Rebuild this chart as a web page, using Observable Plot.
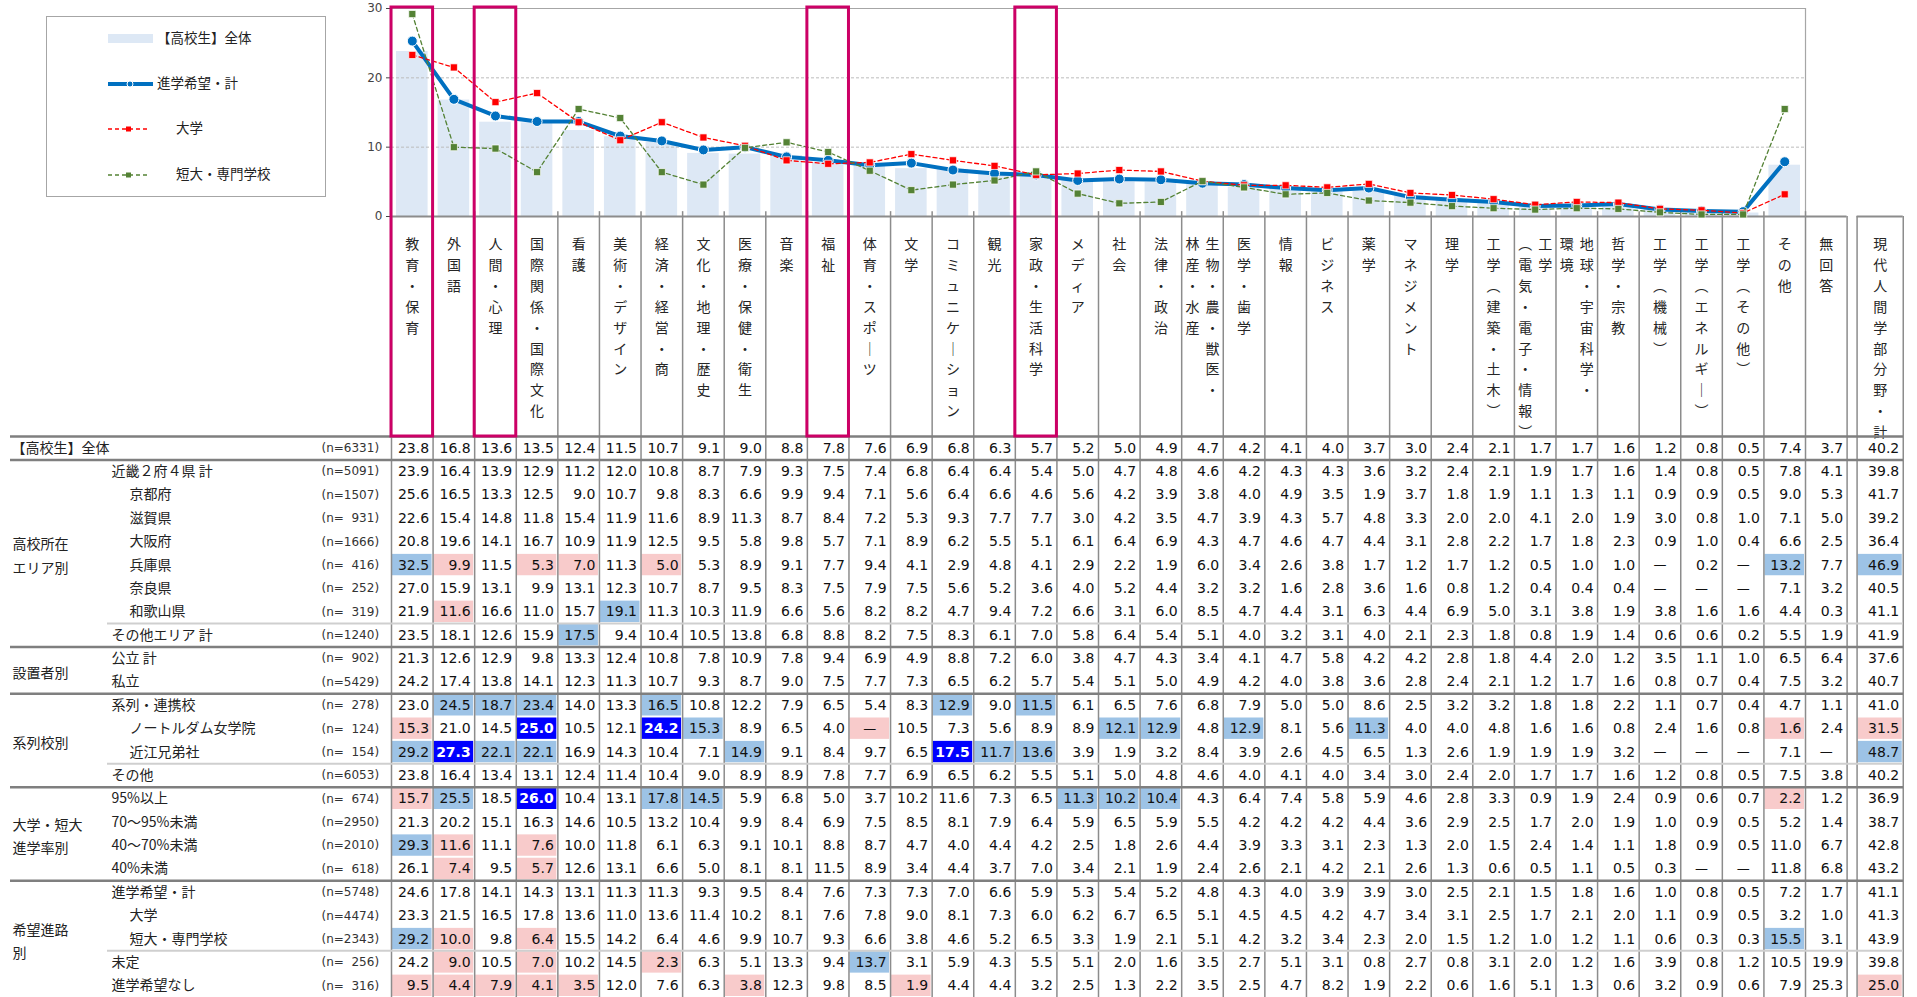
<!DOCTYPE html>
<html><head><meta charset="utf-8">
<script src="https://cdn.jsdelivr.net/npm/d3@7"></script>
<script src="https://cdn.jsdelivr.net/npm/@observablehq/plot@0.6"></script>
<style>
html,body{margin:0;padding:0;background:#fff;overflow:hidden;}
#root{position:relative;width:1917px;height:997px;overflow:hidden;background:#fff;}
.layer{position:absolute;left:0;}
.layer svg{display:block;overflow:visible;max-width:none;}
#legend{position:absolute;left:46px;top:16px;width:280px;height:181px;border:1px solid #a6a6a6;box-sizing:border-box;background:#fff;}
#legend text{font-family:"Noto Sans CJK JP";font-size:13.5px;fill:#222;dominant-baseline:middle;}
</style></head><body><div id="root"></div>
<script>
// ---------- DATA ----------
const fields = ["教育・保育","外国語","人間・心理","国際関係・国際文化","看護","美術・デザイン","経済・経営・商","文化・地理・歴史","医療・保健・衛生","音楽","福祉","体育・スポーツ","文学","コミュニケーション","観光","家政・生活科学","メディア","社会","法律・政治","生物・農・獣医・林産・水産","医学・歯学","情報","ビジネス","薬学","マネジメント","理学","工学（建築・土木）","工学（電気・電子・情報）","地球・宇宙科学・環境","哲学・宗教","工学（機械）","工学（エネルギー）","工学（その他）","その他","無回答"];
const totalField = "現代人間学部分野・計";
// header labels written in two vertical lines (right line first)
const headerTwoLines = {19: ["生物・農・獣医・","林産・水産"], 27: ["工学","（電気・電子・情報）"], 28: ["地球・宇宙科学・","環境"]};
const highlightedFields = ["教育・保育","人間・心理","福祉","家政・生活科学"];

const rowLabels = ["【高校生】全体","近畿２府４県 計","京都府","滋賀県","大阪府","兵庫県","奈良県","和歌山県","その他エリア 計","公立 計","私立","系列・連携校","ノートルダム女学院","近江兄弟社","その他","95%以上","70～95%未満","40～70%未満","40%未満","進学希望・計","大学","短大・専門学校","未定","進学希望なし"];
const rowLevel = [0,1,2,2,2,2,2,2,1,1,1,1,2,2,1,1,1,1,1,1,2,2,1,1];
const rowN = [6331,5091,1507,931,1666,416,252,319,1240,902,5429,278,124,154,6053,674,2950,2010,618,5748,4474,2343,256,316];
const groupLabels = ["高校所在\nエリア別","設置者別","系列校別","大学・短大\n進学率別","希望進路\n別"];
const groupFirstRow = [1,9,11,15,19];
const groupLastRow = [8,10,14,18,23];
const majorBreaks = [0,1,9,11,15,19];
const minorBreaks = [8,14,22];

// table values: 35 fields + 現代人間学部分野・計 (null = —)
const tableValues = [
/*【高校生】全体*/ [23.8,16.8,13.6,13.5,12.4,11.5,10.7,9.1,9.0,8.8,7.8,7.6,6.9,6.8,6.3,5.7,5.2,5.0,4.9,4.7,4.2,4.1,4.0,3.7,3.0,2.4,2.1,1.7,1.7,1.6,1.2,0.8,0.5,7.4,3.7,40.2],
/*近畿2府4県 計*/ [23.9,16.4,13.9,12.9,11.2,12.0,10.8,8.7,7.9,9.3,7.5,7.4,6.8,6.4,6.4,5.4,5.0,4.7,4.8,4.6,4.2,4.3,4.3,3.6,3.2,2.4,2.1,1.9,1.7,1.6,1.4,0.8,0.5,7.8,4.1,39.8],
/*京都府*/ [25.6,16.5,13.3,12.5,9.0,10.7,9.8,8.3,6.6,9.9,9.4,7.1,5.6,6.4,6.6,4.6,5.6,4.2,3.9,3.8,4.0,4.9,3.5,1.9,3.7,1.8,1.9,1.1,1.3,1.1,0.9,0.9,0.5,9.0,5.3,41.7],
/*滋賀県*/ [22.6,15.4,14.8,11.8,15.4,11.9,11.6,8.9,11.3,8.7,8.4,7.2,5.3,9.3,7.7,7.7,3.0,4.2,3.5,4.7,3.9,4.3,5.7,4.8,3.3,2.0,2.0,4.1,2.0,1.9,3.0,0.8,1.0,7.1,5.0,39.2],
/*大阪府*/ [20.8,19.6,14.1,16.7,10.9,11.9,12.5,9.5,5.8,9.8,5.7,7.1,8.9,6.2,5.5,5.1,6.1,6.4,6.9,4.3,4.7,4.6,4.7,4.4,3.1,2.8,2.2,1.7,1.8,2.3,0.9,1.0,0.4,6.6,2.5,36.4],
/*兵庫県*/ [32.5,9.9,11.5,5.3,7.0,11.3,5.0,5.3,8.9,9.1,7.7,9.4,4.1,2.9,4.8,4.1,2.9,2.2,1.9,6.0,3.4,2.6,3.8,1.7,1.2,1.7,1.2,0.5,1.0,1.0,null,0.2,null,13.2,7.7,46.9],
/*奈良県*/ [27.0,15.9,13.1,9.9,13.1,12.3,10.7,8.7,9.5,8.3,7.5,7.9,7.5,5.6,5.2,3.6,4.0,5.2,4.4,3.2,3.2,1.6,2.8,3.6,1.6,0.8,1.2,0.4,0.4,0.4,null,null,null,7.1,3.2,40.5],
/*和歌山県*/ [21.9,11.6,16.6,11.0,15.7,19.1,11.3,10.3,11.9,6.6,5.6,8.2,8.2,4.7,9.4,7.2,6.6,3.1,6.0,8.5,4.7,4.4,3.1,6.3,4.4,6.9,5.0,3.1,3.8,1.9,3.8,1.6,1.6,4.4,0.3,41.1],
/*その他エリア 計*/ [23.5,18.1,12.6,15.9,17.5,9.4,10.4,10.5,13.8,6.8,8.8,8.2,7.5,8.3,6.1,7.0,5.8,6.4,5.4,5.1,4.0,3.2,3.1,4.0,2.1,2.3,1.8,0.8,1.9,1.4,0.6,0.6,0.2,5.5,1.9,41.9],
/*公立 計*/ [21.3,12.6,12.9,9.8,13.3,12.4,10.8,7.8,10.9,7.8,9.4,6.9,4.9,8.8,7.2,6.0,3.8,4.7,4.3,3.4,4.1,4.7,5.8,4.2,4.2,2.8,1.8,4.4,2.0,1.2,3.5,1.1,1.0,6.5,6.4,37.6],
/*私立*/ [24.2,17.4,13.8,14.1,12.3,11.3,10.7,9.3,8.7,9.0,7.5,7.7,7.3,6.5,6.2,5.7,5.4,5.1,5.0,4.9,4.2,4.0,3.8,3.6,2.8,2.4,2.1,1.2,1.7,1.6,0.8,0.7,0.4,7.5,3.2,40.7],
/*系列・連携校*/ [23.0,24.5,18.7,23.4,14.0,13.3,16.5,10.8,12.2,7.9,6.5,5.4,8.3,12.9,9.0,11.5,6.1,6.5,7.6,6.8,7.9,5.0,5.0,8.6,2.5,3.2,3.2,1.8,1.8,2.2,1.1,0.7,0.4,4.7,1.1,41.0],
/*ノートルダム女学院*/ [15.3,21.0,14.5,25.0,10.5,12.1,24.2,15.3,8.9,6.5,4.0,null,10.5,7.3,5.6,8.9,8.9,12.1,12.9,4.8,12.9,8.1,5.6,11.3,4.0,4.0,4.8,1.6,1.6,0.8,2.4,1.6,0.8,1.6,2.4,31.5],
/*近江兄弟社*/ [29.2,27.3,22.1,22.1,16.9,14.3,10.4,7.1,14.9,9.1,8.4,9.7,6.5,17.5,11.7,13.6,3.9,1.9,3.2,8.4,3.9,2.6,4.5,6.5,1.3,2.6,1.9,1.9,1.9,3.2,null,null,null,7.1,null,48.7],
/*その他*/ [23.8,16.4,13.4,13.1,12.4,11.4,10.4,9.0,8.9,8.9,7.8,7.7,6.9,6.5,6.2,5.5,5.1,5.0,4.8,4.6,4.0,4.1,4.0,3.4,3.0,2.4,2.0,1.7,1.7,1.6,1.2,0.8,0.5,7.5,3.8,40.2],
/*95%以上*/ [15.7,25.5,18.5,26.0,10.4,13.1,17.8,14.5,5.9,6.8,5.0,3.7,10.2,11.6,7.3,6.5,11.3,10.2,10.4,4.3,6.4,7.4,5.8,5.9,4.6,2.8,3.3,0.9,1.9,2.4,0.9,0.6,0.7,2.2,1.2,36.9],
/*70～95%未満*/ [21.3,20.2,15.1,16.3,14.6,10.5,13.2,10.4,9.9,8.4,6.9,7.5,8.5,8.1,7.9,6.4,5.9,6.5,5.9,5.5,4.2,4.2,4.2,4.4,3.6,2.9,2.5,1.7,2.0,1.9,1.0,0.9,0.5,5.2,1.4,38.7],
/*40～70%未満*/ [29.3,11.6,11.1,7.6,10.0,11.8,6.1,6.3,9.1,10.1,8.8,8.7,4.7,4.0,4.4,4.2,2.5,1.8,2.6,4.4,3.9,3.3,3.1,2.3,1.3,2.0,1.5,2.4,1.4,1.1,1.8,0.9,0.5,11.0,6.7,42.8],
/*40%未満*/ [26.1,7.4,9.5,5.7,12.6,13.1,6.6,5.0,8.1,8.1,11.5,8.9,3.4,4.4,3.7,7.0,3.4,2.1,1.9,2.4,2.6,2.1,4.2,2.1,2.6,1.3,0.6,0.5,1.1,0.5,0.3,null,null,11.8,6.8,43.2],
/*進学希望・計*/ [24.6,17.8,14.1,14.3,13.1,11.3,11.3,9.3,9.5,8.4,7.6,7.3,7.3,7.0,6.6,5.9,5.3,5.4,5.2,4.8,4.3,4.0,3.9,3.9,3.0,2.5,2.1,1.5,1.8,1.6,1.0,0.8,0.5,7.2,1.7,41.1],
/*大学*/ [23.3,21.5,16.5,17.8,13.6,11.0,13.6,11.4,10.2,8.1,7.6,7.8,9.0,8.1,7.3,6.0,6.2,6.7,6.5,5.1,4.5,4.5,4.2,4.7,3.4,3.1,2.5,1.7,2.1,2.0,1.1,0.9,0.5,3.2,1.0,41.3],
/*短大・専門学校*/ [29.2,10.0,9.8,6.4,15.5,14.2,6.4,4.6,9.9,10.7,9.3,6.6,3.8,4.6,5.2,6.5,3.3,1.9,2.1,5.1,4.2,3.2,3.4,2.3,2.0,1.5,1.2,1.0,1.2,1.1,0.6,0.3,0.3,15.5,3.1,43.9],
/*未定*/ [24.2,9.0,10.5,7.0,10.2,14.5,2.3,6.3,5.1,13.3,9.4,13.7,3.1,5.9,4.3,5.5,5.1,2.0,1.6,3.5,2.7,5.1,3.1,0.8,2.7,0.8,3.1,2.0,1.2,1.6,3.9,0.8,1.2,10.5,19.9,39.8],
/*進学希望なし*/ [9.5,4.4,7.9,4.1,3.5,12.0,7.6,6.3,3.8,12.3,9.8,8.5,1.9,4.4,4.4,3.2,2.5,1.3,2.2,3.5,2.5,4.7,8.2,1.9,2.2,0.6,1.6,5.1,1.3,0.6,3.2,0.9,0.6,7.9,25.3,25.0]
];

// chart line "進学希望・計" as plotted
const chartTotalLine = [25.3,16.9,14.5,13.7,13.7,11.6,10.9,9.6,10.0,8.6,8.1,7.4,7.7,6.7,6.2,6.0,5.2,5.4,5.3,4.8,4.6,4.1,3.8,4.1,2.8,2.4,2.1,1.5,1.6,1.8,1.0,0.8,0.7,7.9];

// significance marks [row, column] (column 35 = 現代人間学部分野・計)
const higherCells = [[5,0],[5,33],[5,35],[7,5],[8,4],[11,1],[11,2],[11,3],[11,6],[11,13],[11,15],[12,7],[12,17],[12,18],[12,20],[12,23],[13,0],[13,2],[13,3],[13,8],[13,14],[13,15],[13,35],[15,1],[15,6],[15,7],[15,16],[15,17],[15,18],[17,0],[21,0],[21,33],[22,11]];
const muchHigherCells = [[12,3],[12,6],[13,1],[13,13],[15,3]];
const lowerCells = [[5,1],[5,3],[5,4],[5,6],[7,1],[12,0],[12,11],[12,33],[12,35],[15,0],[15,33],[17,1],[17,3],[18,1],[18,3],[21,1],[21,3],[22,1],[22,3],[22,6],[23,0],[23,1],[23,2],[23,3],[23,4],[23,8],[23,12],[23,35]];

// ---------- BUILD ----------
const NCOL = fields.length;            // 35
const TOT_L = 35.24, TOT_R = 36.35;    // separate total column (in column units)
const colL = c => c < NCOL ? c : TOT_L;
const colR = c => c < NCOL ? c + 1 : TOT_R;
const colC = c => (colL(c) + colR(c)) / 2;
const xScale = {domain: [0, NCOL], range: [391, 1846.6], axis: null};
const borders = d3.range(0, NCOL + 1).concat([TOT_L, TOT_R]);
const CJK = "Noto Sans CJK JP";
const NUM = "DejaVu Sans";
const C_BAR = "#dde8f5", C_BLUE = "#0070c0", C_RED = "#ff0000", C_GREEN = "#548235";
const C_HI = "#9dc3e6", C_HI2 = "#0000ff", C_LO = "#f8cbcb", C_GRID = "#8c8c8c";

const chartCols = d3.range(0, NCOL - 1); // chart covers all fields but 無回答
const bars = chartCols.map(i => ({i, v: tableValues[0][i]}));
const blueLine = chartCols.map(i => ({i, v: chartTotalLine[i]}));
const redLine = chartCols.map(i => ({i, v: tableValues[20][i]}));
const greenLine = chartCols.map(i => ({i, v: tableValues[21][i]}));
const mid = d => d.i + 0.5;

const root = document.getElementById("root");
function place(svg, top) {
  const d = document.createElement("div");
  d.className = "layer"; d.style.top = top + "px";
  d.appendChild(svg); root.appendChild(d);
}

// ---- chart ----
const chart = Plot.plot({
  width: 1917, height: 218,
  marginLeft: 391, marginRight: 1917 - 1846.6, marginTop: 8, marginBottom: 2,
  x: xScale,
  y: {domain: [0, 30], range: [216, 8]},
  style: {background: "transparent", overflow: "visible"},
  marks: [
    Plot.rect(bars, {x1: "i", x2: d => d.i + 1, y1: 0, y2: "v", fill: C_BAR, insetLeft: 5, insetRight: 5}),
    Plot.ruleY([10, 20], {x1: 0, x2: NCOL - 1, stroke: "#bdbdbd", strokeDasharray: "3,2"}),
    Plot.ruleY([30], {x1: 0, x2: NCOL - 1, stroke: "#a6a6a6", strokeWidth: 1.2}),
    Plot.ruleX([NCOL - 1], {y1: 0, y2: 30, stroke: "#a6a6a6", strokeWidth: 1.2}),
    Plot.ruleX([0], {y1: 0, y2: 30, stroke: C_GRID, strokeWidth: 1.2}),
    Plot.ruleX(d3.range(1, NCOL), {y1: 0, y2: 0.7, stroke: C_GRID, strokeWidth: 1.5}),
    Plot.ruleY([0], {x1: 0, x2: NCOL, stroke: C_GRID, strokeWidth: 2}),
    Plot.ruleY([0], {x1: TOT_L, x2: TOT_R, stroke: C_GRID, strokeWidth: 2}),
    Plot.axisY({ticks: [0, 10, 20, 30], tickSize: 5, tickPadding: 4, label: null, fontSize: 12, fontFamily: NUM, color: "#444"}),
    Plot.line(blueLine, {x: mid, y: "v", stroke: C_BLUE, strokeWidth: 4}),
    Plot.dot(blueLine, {x: mid, y: "v", r: 5, fill: C_BLUE, stroke: "#fff", strokeWidth: 1}),
    Plot.line(redLine, {x: mid, y: "v", stroke: C_RED, strokeWidth: 1.3, strokeDasharray: "4,3"}),
    Plot.dot(redLine, {x: mid, y: "v", r: 4, symbol: "square", fill: C_RED, stroke: "#fff", strokeWidth: 0.7}),
    Plot.line(greenLine, {x: mid, y: "v", stroke: C_GREEN, strokeWidth: 1.3, strokeDasharray: "4,3"}),
    Plot.dot(greenLine, {x: mid, y: "v", r: 4, symbol: "square", fill: C_GREEN, stroke: "#fff", strokeWidth: 0.7})
  ]
});
place(chart, 0);

// ---- column headers ----
const vmap = {"（": "︵", "）": "︶", "ー": "｜"};
const vert = s => Array.from(s).map(ch => vmap[ch] || ch).join("\n");
const singleHeads = [], rightHeads = [], leftHeads = [];
fields.forEach((f, c) => {
  if (headerTwoLines[c]) {
    rightHeads.push({c, t: vert(headerTwoLines[c][0])});
    leftHeads.push({c, t: vert(headerTwoLines[c][1])});
  } else singleHeads.push({c, t: vert(f)});
});
singleHeads.push({c: NCOL, t: vert(totalField)});
const headOpts = {x: d => colC(d.c), text: "t", frameAnchor: "top", lineAnchor: "top", dy: 18,
  fontFamily: CJK, fontSize: 14, lineHeight: 1.49, fill: "#262626"};
const header = Plot.plot({
  width: 1917, height: 220, marginLeft: 391, marginRight: 1917 - 1846.6, marginTop: 0, marginBottom: 0,
  x: xScale,
  style: {background: "transparent", overflow: "visible"},
  marks: [
    Plot.ruleX(borders, {stroke: C_GRID, strokeWidth: 1.5}),
    Plot.text(singleHeads, headOpts),
    Plot.text(rightHeads, {...headOpts, dx: 10}),
    Plot.text(leftHeads, {...headOpts, dx: -10})
  ]
});
place(header, 216);

// ---- table ----
const numCells = [], dashCells = [];
const darkSet = new Set(muchHigherCells.map(([r, c]) => r + "_" + c));
tableValues.forEach((row, r) => row.forEach((v, c) => {
  if (v == null) dashCells.push({r, c});
  else numCells.push({r, c, t: v.toFixed(1), dark: darkSet.has(r + "_" + c)});
}));
const toCell = ([r, c]) => ({r, c});
const rows = rowLabels.map((label, r) => ({r, label, level: rowLevel[r],
  n: "(n=" + String(rowN[r]).padStart(4, "\u2007") + ")"}));
const groups = groupLabels.map((g, k) => ({g, yc: (groupFirstRow[k] + groupLastRow[k] + 1) / 2}));
const rowMid = d => d.r + 0.5;
const cellRect = {x1: d => colL(d.c), x2: d => colR(d.c), y1: "r", y2: d => d.r + 1, inset: 1};
const numOpts = {x: d => colR(d.c), y: rowMid, text: "t", textAnchor: "end", dx: -4, fontFamily: NUM, fontSize: 14};
const labelOpts = {y: rowMid, text: "label", frameAnchor: "left", textAnchor: "start", fontFamily: CJK, fontSize: 14, fill: "#222"};

const table = Plot.plot({
  width: 1917, height: 561, marginLeft: 10, marginRight: 14, marginTop: 0, marginBottom: 0,
  x: xScale,
  y: {domain: [0, rowLabels.length], range: [0, 561], axis: null},
  style: {background: "transparent", overflow: "visible"},
  marks: [
    Plot.rect(higherCells.map(toCell), {...cellRect, fill: C_HI}),
    Plot.rect(muchHigherCells.map(toCell), {...cellRect, fill: C_HI2}),
    Plot.rect(lowerCells.map(toCell), {...cellRect, fill: C_LO}),
    Plot.ruleX(borders, {stroke: C_GRID, strokeWidth: 1.5}),
    Plot.ruleY(minorBreaks, {stroke: "#cfcfcf", strokeWidth: 2, insetLeft: 97}),
    Plot.ruleY(majorBreaks, {stroke: "#7f7f7f", strokeWidth: 2.5}),
    Plot.text(numCells.filter(d => !d.dark), {...numOpts, fill: "#111"}),
    Plot.text(numCells.filter(d => d.dark), {...numOpts, fill: "#fff", fontWeight: "bold"}),
    Plot.text(dashCells, {x: d => colC(d.c), y: rowMid, text: () => "—", fontFamily: NUM, fontSize: 13, fill: "#111"}),
    Plot.text(rows.filter(d => d.level === 0), {...labelOpts, dx: 1}),
    Plot.text(rows.filter(d => d.level === 1), {...labelOpts, dx: 101}),
    Plot.text(rows.filter(d => d.level === 2), {...labelOpts, dx: 119}),
    Plot.text(rows, {y: rowMid, text: "n", frameAnchor: "left", textAnchor: "start", dx: 311, fontFamily: NUM, fontSize: 12, fill: "#333"}),
    Plot.text(groups, {y: "yc", text: "g", frameAnchor: "left", textAnchor: "start", dx: 2, fontFamily: CJK, fontSize: 14, fill: "#222", lineHeight: 1.67})
  ]
});
place(table, 436);

// ---- highlight frames ----
const frames = Plot.plot({
  width: 1917, height: 429, marginLeft: 391, marginRight: 1917 - 1846.6, marginTop: 0, marginBottom: 0,
  x: xScale,
  style: {background: "transparent", overflow: "visible"},
  marks: [
    Plot.rect(highlightedFields.map(f => fields.indexOf(f)), {x1: d => d, x2: d => d + 1, fill: "none", stroke: "#cc0066", strokeWidth: 3})
  ]
});
place(frames, 7);

// ---- legend ----
const lg = document.createElement("div");
lg.id = "legend";
lg.innerHTML = `<svg width="278" height="179">
<rect x="61" y="17" width="45" height="9" fill="${C_BAR}"/>
<text x="110" y="22">【高校生】全体</text>
<line x1="61" x2="106" y1="67" y2="67" stroke="${C_BLUE}" stroke-width="4"/>
<circle cx="83" cy="67" r="3" fill="${C_BLUE}" stroke="#fff" stroke-width="1"/>
<text x="110" y="67">進学希望・計</text>
<line x1="61" x2="103" y1="112" y2="112" stroke="${C_RED}" stroke-width="1.3" stroke-dasharray="4,3"/>
<rect x="79" y="109.5" width="5" height="5" fill="${C_RED}"/>
<text x="129" y="112">大学</text>
<line x1="61" x2="103" y1="158" y2="158" stroke="${C_GREEN}" stroke-width="1.3" stroke-dasharray="4,3"/>
<rect x="79" y="155.5" width="5" height="5" fill="${C_GREEN}"/>
<text x="129" y="158">短大・専門学校</text>
</svg>`;
root.appendChild(lg);
</script></body></html>
